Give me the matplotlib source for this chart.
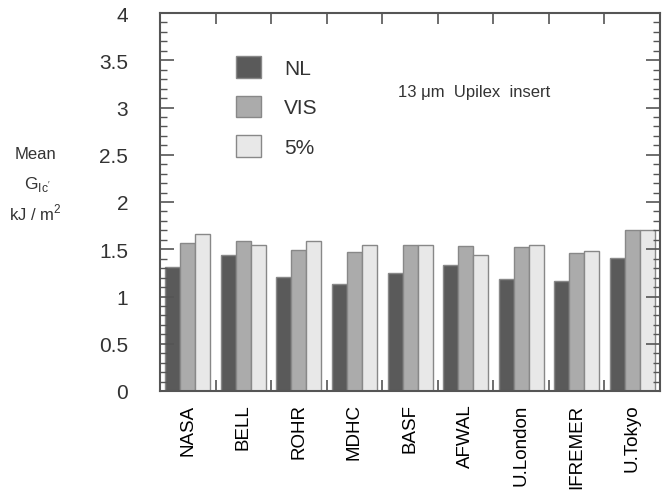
import numpy as np
import matplotlib
matplotlib.use("Agg")
import matplotlib.pyplot as plt
from matplotlib.ticker import MultipleLocator, FixedLocator

plt.rcParams['font.family'] = ['Liberation Sans', 'DejaVu Sans']

labs = ["NASA", "BELL", "ROHR", "MDHC", "BASF", "AFWAL", "U.London", "IFREMER", "U.Tokyo"]
nl  = [1.31, 1.44, 1.21, 1.13, 1.25, 1.33, 1.18, 1.16, 1.41]
vis = [1.57, 1.59, 1.49, 1.47, 1.55, 1.53, 1.52, 1.46, 1.70]
pct = [1.66, 1.54, 1.59, 1.54, 1.55, 1.44, 1.54, 1.48, 1.70]
series = [("NL", nl, "#5a5a5a"), ("VIS", vis, "#ababab"), ("5%", pct, "#e8e8e8")]

fig = plt.figure(figsize=(6.63, 5.02), dpi=100)
ax = fig.add_axes([160/663, 1-392/502, 500/663, 378/502])

x = np.arange(len(labs))
w = 0.27
for i, (name, vals, col) in enumerate(series):
    ax.bar(x + (i-1)*w, vals, w, color=col, edgecolor="#888888", linewidth=1.0, label=name)

ax.set_xlim(-0.5, len(labs)-0.5)
ax.set_ylim(0, 4)
ax.xaxis.set_major_locator(FixedLocator(np.arange(len(labs)-1) + 0.5))
ax.xaxis.set_minor_locator(FixedLocator(x))
ax.set_xticklabels([])
ax.set_xticklabels(labs, minor=True, rotation=90, fontsize=13.5)
ax.tick_params(axis='x', which='minor', length=0, pad=9)
ax.tick_params(axis='x', which='major', direction='in', length=8, width=1.2, top=True, bottom=True, color="#555555")
ax.yaxis.set_major_locator(MultipleLocator(0.5))
ax.yaxis.set_minor_locator(MultipleLocator(0.1))
ax.yaxis.set_major_formatter(plt.FuncFormatter(lambda v, p: ("%g" % v)))
ax.tick_params(axis='y', which='major', direction='in', length=10, width=1.2, left=True, right=True, labelsize=15, pad=23, color="#555555", labelcolor="#333333")
ax.tick_params(axis='y', which='minor', direction='in', length=5, width=1.0, left=True, right=True, color="#555555")
ax.tick_params(axis='x', labelcolor="#333333")
for s in ax.spines.values():
    s.set_linewidth(1.5)
    s.set_color("#555555")

leg = ax.legend(loc="upper left", bbox_to_anchor=(0.115, 0.935), frameon=False, fontsize=15,
                handlelength=1.2, handleheight=1.2, labelspacing=0.85, handletextpad=1.1)
for t in leg.get_texts():
    t.set_color("#333333")

fig.text(398/663, 1-93/502, "13 \u03bcm  Upilex  insert", fontsize=12, color="#333333", va="center", ha="left")
fig.text(35/663, 1-155/502, "Mean", ha="center", va="center", fontsize=12, color="#333333")
fig.text(37/663, 1-184/502, "G$_{\\mathregular{Ic'}}$", ha="center", va="center", fontsize=12.5, color="#333333")
fig.text(35/663, 1-213/502, "kJ / m$^{\\mathregular{2}}$", ha="center", va="center", fontsize=12, color="#333333")

fig.savefig("out.png", dpi=100)
